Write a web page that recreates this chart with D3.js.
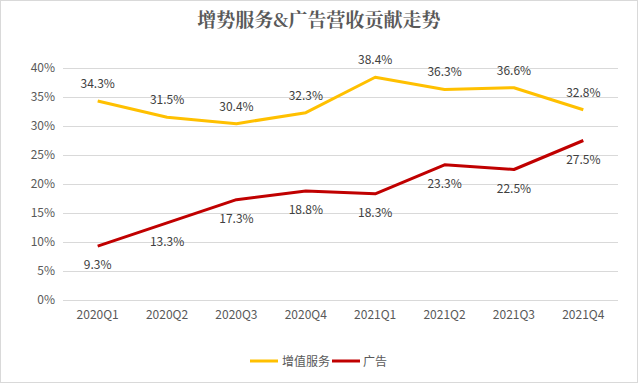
<!DOCTYPE html>
<html><head><meta charset="utf-8">
<script src="https://cdn.jsdelivr.net/npm/d3@7"></script>
<style>
body{margin:0;background:#fff;}
svg{display:block;}
text{font-family:"Microsoft YaHei","Noto Sans CJK SC","DejaVu Sans",sans-serif;}
</style></head>
<body><svg id="c" width="638" height="383"></svg>
<script>
const categories = ["2020Q1","2020Q2","2020Q3","2020Q4","2021Q1","2021Q2","2021Q3","2021Q4"];
const valueAdded = [34.3,31.5,30.4,32.3,38.4,36.3,36.6,32.8];
const ads = [9.3,13.3,17.3,18.8,18.3,23.3,22.5,27.5];
const yTicks = [0,5,10,15,20,25,30,35,40];
const seriesNames = ["增值服务","广告"];
const colors = ["#FFC000","#C00000"];
const title = "增势服务&广告营收贡献走势";

const svg = d3.select("#c");
svg.append("rect").attr("x",0.5).attr("y",0.5).attr("width",637).attr("height",382)
  .attr("fill","#fff").attr("stroke","#d9d9d9");

const x = d3.scaleBand().domain(categories).range([63,618]);
const y = d3.scaleLinear().domain([0,40]).range([300,68]);

svg.append("text").attr("x",319).attr("y",27).attr("text-anchor","middle")
  .attr("font-size",19).attr("font-weight","bold").attr("fill","#595959")
  .style("font-family","'Noto Serif CJK SC','Noto Sans CJK SC',serif").text(title);

// gridlines
svg.append("g").selectAll("line").data(yTicks).join("line")
  .attr("x1",63).attr("x2",618).attr("y1",d=>Math.round(y(d))+0.5).attr("y2",d=>Math.round(y(d))+0.5)
  .attr("stroke","#d9d9d9").attr("stroke-width",1);

const yAxis = d3.axisLeft(y).tickValues(yTicks).tickFormat(d=>d+"%").tickSize(0).tickPadding(8);
const gy = svg.append("g").attr("transform","translate(63,0)").call(yAxis);
gy.select(".domain").remove();
gy.selectAll("text").attr("fill","#595959").attr("font-size",12);

const xAxis = d3.axisBottom(x).tickSize(0).tickPadding(10);
const gx = svg.append("g").attr("transform","translate(0,300)").call(xAxis);
gx.select(".domain").remove();
gx.selectAll("text").attr("fill","#595959").attr("font-size",12);

const line = d3.line().x((d,i)=>x(categories[i])+x.bandwidth()/2).y(d=>y(d));
const all = [valueAdded, ads];
all.forEach((s,k)=>{
  svg.append("path").datum(s).attr("d",line).attr("fill","none")
    .attr("stroke",colors[k]).attr("stroke-width",3).attr("stroke-linejoin","round");
  svg.append("g").selectAll("text").data(s).join("text")
    .attr("x",(d,i)=>x(categories[i])+x.bandwidth()/2)
    .attr("y",d=>k===0? y(d)-13 : y(d)+23)
    .attr("text-anchor","middle").attr("font-size",12).attr("fill","#404040")
    .text(d=>d.toFixed(1)+"%");
});

// legend
const leg = [{x:250,tx:282},{x:332,tx:363}];
seriesNames.forEach((n,k)=>{
  svg.append("line").attr("x1",leg[k].x).attr("x2",leg[k].x+28).attr("y1",361).attr("y2",361)
    .attr("stroke",colors[k]).attr("stroke-width",3);
  svg.append("text").attr("x",leg[k].tx).attr("y",366).attr("font-size",12).attr("fill","#595959").text(n);
});
</script></body></html>
